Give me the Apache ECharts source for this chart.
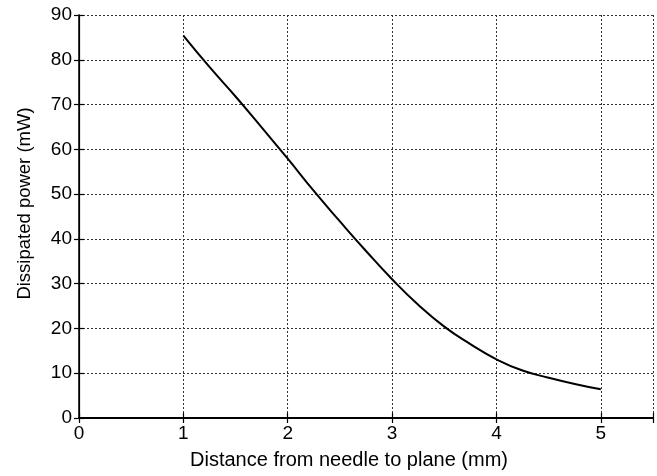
<!DOCTYPE html>
<html>
<head>
<meta charset="utf-8">
<script src="https://cdn.jsdelivr.net/npm/echarts@6/dist/echarts.min.js"></script>
<style>html,body{margin:0;padding:0;background:#fff}#c{width:657px;height:476px}</style>
</head>
<body>
<div id="c"></div>
<script>
var distance = [1.0, 1.25, 1.5, 1.75, 2.0, 2.25, 2.5, 2.75, 3.0, 3.25, 3.5, 3.75, 4.0, 4.25, 4.5, 4.75, 5.0];
var power = [85.4, 78.4, 71.8, 64.9, 57.9, 50.7, 43.9, 37.3, 31.0, 25.3, 20.4, 16.5, 13.1, 10.6, 9.0, 7.6, 6.4];
var xTitle = 'Distance from needle to plane (mm)';
var yTitle = 'Dissipated power (mW)';

var pts = distance.map(function (d, i) { return [d, power[i]]; });
var font = 'Liberation Sans, Arial, Helvetica, sans-serif';
var chart = echarts.init(document.getElementById('c'));
var lineStyle = {color: '#000', width: 1.2};
var splitStyle = {show: true, lineStyle: {color: '#333', width: 1, type: [2, 2]}};
chart.setOption({
  animation: false,
  backgroundColor: '#fff',
  grid: {left: 79, right: 4, top: 15, bottom: 58, containLabel: false},
  xAxis: [{
    type: 'value', min: 0, max: 5.5, interval: 1, position: 'bottom',
    axisLine: {show: true, lineStyle: {color: '#000', width: 2}},
    axisTick: {show: true, inside: true, length: 5, lineStyle: lineStyle},
    axisLabel: {color: '#000', fontSize: 19, fontFamily: font, margin: 6,
      formatter: function (v) { return (v % 1 === 0) ? String(v) : ''; }},
    splitLine: splitStyle,
    name: xTitle, nameLocation: 'middle', nameGap: 32,
    nameTextStyle: {color: '#000', fontSize: 20, fontFamily: font, padding: [0, 34, 0, 0]}
  }, {
    type: 'value', min: 0, max: 5.5, interval: 1, position: 'top',
    axisLine: {show: true, lineStyle: lineStyle},
    axisTick: {show: true, inside: true, length: 5, lineStyle: lineStyle},
    axisLabel: {show: false}, splitLine: {show: false}
  }],
  yAxis: [{
    type: 'value', min: 0, max: 90, interval: 10, position: 'left',
    axisLine: {show: true, lineStyle: {color: '#000', width: 1.5}},
    axisTick: {show: true, inside: true, length: 5, lineStyle: lineStyle},
    axisLabel: {color: '#000', fontSize: 19, fontFamily: font, margin: 7},
    splitLine: splitStyle,
    name: yTitle, nameLocation: 'middle', nameGap: 45,
    nameTextStyle: {color: '#000', fontSize: 18.5, fontFamily: font, padding: [0, 0, 0, 26]}
  }, {
    type: 'value', min: 0, max: 90, interval: 10, position: 'right',
    axisLine: {show: true, lineStyle: lineStyle},
    axisTick: {show: true, inside: true, length: 5, lineStyle: lineStyle},
    axisLabel: {show: false}, splitLine: {show: false}
  }],
  series: [{
    type: 'line', data: pts, smooth: 0.5, showSymbol: false, symbol: 'none',
    xAxisIndex: 0, yAxisIndex: 0,
    lineStyle: {color: '#000', width: 2}
  }]
});
</script>
</body>
</html>
